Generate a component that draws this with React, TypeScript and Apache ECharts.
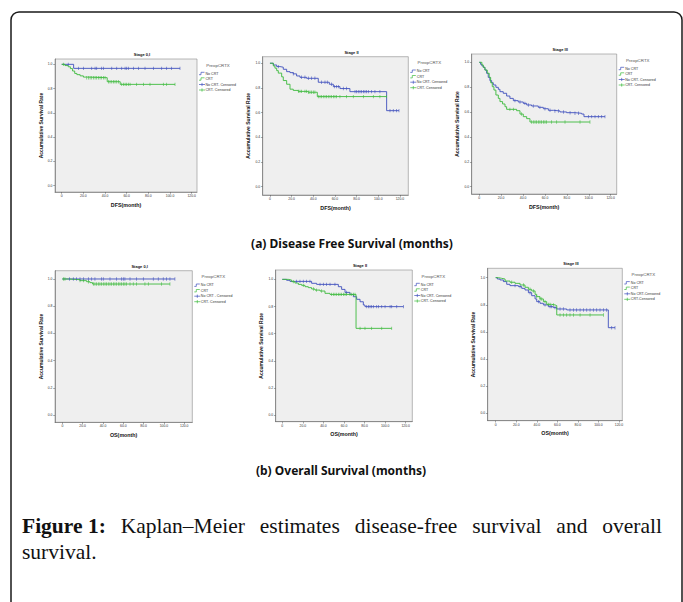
import React, { useEffect, useRef } from "react";
import * as echarts from "echarts";

type Pt = [number, number];

// ---------- tick values ----------
const X_TICKS = [0, 20, 40, 60, 80, 100, 120];
const Y_TICKS = [0, 0.2, 0.4, 0.6, 0.8, 1.0];

// ---------- (a) DFS, Stage 0,I ----------
const DFS_S01_NOCRT_STEPS: Pt[] = [[0, 1], [11, 0.967], [109.2, 0.967]];
const DFS_S01_NOCRT_CENS = [6, 15.4, 20, 27.7, 30.8, 32.3, 36.9, 38.5, 46.2, 50.8, 55.4, 58.5, 60, 61.5, 66.2, 70.8, 76.9, 84.6, 92.3, 96.9, 101.5, 109.2];
const DFS_S01_CRT_STEPS: Pt[] = [[0, 1], [3, 0.99], [6, 0.98], [8, 0.965], [10, 0.945], [12, 0.925], [14, 0.915], [17, 0.905], [20, 0.895], [23, 0.89], [42, 0.857], [54, 0.835], [104.6, 0.835]];
const DFS_S01_CRT_CENS = [1.5, 23.1, 24.6, 26.2, 27.7, 29.2, 30.8, 32.3, 33.8, 35.4, 36.9, 38.5, 40, 43.1, 44.6, 46.2, 47.7, 49.2, 50.8, 52.3, 55.4, 56.9, 58.5, 60, 61.5, 63.1, 69.2, 75.4, 81.5, 93.8, 96.9, 104.6];

// ---------- (a) DFS, Stage II ----------
const DFS_S2_NOCRT_STEPS: Pt[] = [[0, 1], [3.1, 0.986], [6.2, 0.973], [9.2, 0.968], [12.3, 0.951], [15.4, 0.932], [18.5, 0.924], [21.5, 0.914], [24.6, 0.897], [27.7, 0.886], [33.8, 0.878], [44.6, 0.846], [54.8, 0.83], [58.5, 0.811], [64.6, 0.795], [73.8, 0.77], [107.7, 0.616], [119.1, 0.616]];
const DFS_S2_NOCRT_CENS = [7.7, 21.5, 29.2, 32.3, 35.4, 38.5, 41.5, 47.7, 50.8, 52.9, 56.9, 59.4, 61.5, 63.1, 67.7, 70.8, 78.5, 80, 81.5, 83.1, 84.6, 86.2, 87.7, 89.2, 90.8, 93.8, 96.9, 101.5, 110.8, 113.8, 116.9, 119.1];
const DFS_S2_CRT_STEPS: Pt[] = [[0, 1], [3.1, 0.978], [4.6, 0.96], [6.2, 0.94], [7.7, 0.92], [10.8, 0.89], [12.3, 0.86], [15.4, 0.83], [18.5, 0.79], [21.5, 0.78], [26.2, 0.772], [35.4, 0.765], [43.7, 0.73], [107.7, 0.73]];
const DFS_S2_CRT_CENS = [26.2, 27.7, 29.2, 32.3, 33.8, 35.4, 36.9, 38.5, 40, 41.5, 44.6, 46.2, 47.7, 49.2, 50.8, 52.3, 53.8, 55.4, 56.9, 58.5, 60, 61.5, 64.6, 70.8, 76.9, 86.2, 95.4, 101.5, 107.7];

// ---------- (a) DFS, Stage III ----------
const DFS_S3_NOCRT_STEPS: Pt[] = [[0, 1], [1.2, 0.984], [2.4, 0.971], [3.7, 0.96], [5.2, 0.938], [6.7, 0.912], [8.2, 0.879], [9.7, 0.853], [11.3, 0.836], [12.8, 0.818], [15.2, 0.799], [17.4, 0.783], [18.9, 0.764], [21.9, 0.751], [25, 0.729], [28, 0.71], [31.1, 0.692], [35.6, 0.681], [40.2, 0.67], [43.3, 0.657], [47.8, 0.649], [53.9, 0.638], [58.5, 0.627], [63.1, 0.614], [67.6, 0.609], [73.7, 0.601], [79.8, 0.595], [87.4, 0.59], [93.5, 0.584], [95.6, 0.563], [114.8, 0.563]];
const DFS_S3_NOCRT_CENS = [32.6, 37.2, 41.7, 44.8, 49.3, 55.4, 60, 64.6, 69.1, 72.2, 76.8, 82.9, 87.4, 90.5, 99.6, 102.7, 105.7, 108.7, 111.8, 114.8];
const DFS_S3_CRT_STEPS: Pt[] = [[0, 1], [2.4, 0.979], [3.7, 0.96], [5.2, 0.938], [7.3, 0.912], [9.1, 0.879], [10.4, 0.836], [11.9, 0.804], [13.4, 0.777], [15.2, 0.737], [17.4, 0.71], [18.9, 0.684], [21.3, 0.665], [23.5, 0.643], [25, 0.622], [34.1, 0.611], [37.2, 0.584], [40.2, 0.563], [43.3, 0.547], [46.3, 0.52], [101.1, 0.52]];
const DFS_S3_CRT_CENS = [28, 31.1, 38.7, 47.8, 49.3, 50.9, 52.4, 53.9, 55.4, 56.9, 58.5, 60, 61.5, 66.1, 70.7, 78.3, 92, 101.1];

// ---------- (b) OS, Stage 0,I ----------
const OS_S01_NOCRT_STEPS: Pt[] = [[0, 1], [110.8, 1]];
const OS_S01_NOCRT_CENS = [6.9, 10.8, 14.1, 17.4, 20.7, 25.6, 28.9, 32.1, 38.7, 40.3, 46.9, 53.4, 58.4, 60, 61.6, 66.6, 73.1, 79.7, 89.5, 94.4, 99.3, 102.6, 105.9, 110.8];
const OS_S01_CRT_STEPS: Pt[] = [[0, 1], [5.9, 0.995], [17.4, 0.988], [23.9, 0.98], [27.2, 0.973], [29.8, 0.963], [105.9, 0.963]];
const OS_S01_CRT_CENS = [1, 2.6, 17.4, 20.7, 25.6, 30.5, 32.1, 33.8, 35.4, 37, 38.7, 40.3, 42, 43.6, 45.2, 46.9, 48.5, 50.2, 51.8, 53.4, 55.1, 56.7, 58.4, 60, 61.6, 63.3, 66.6, 69.8, 73.1, 81.3, 84.6, 97.7, 105.9];

// ---------- (b) OS, Stage II ----------
const OS_S2_NOCRT_STEPS: Pt[] = [[0, 1], [4.2, 0.993], [7.5, 0.985], [28.5, 0.971], [33.4, 0.963], [54.5, 0.946], [57.7, 0.926], [61, 0.904], [65.8, 0.889], [69.1, 0.872], [72.3, 0.853], [75.6, 0.835], [78.8, 0.811], [80.4, 0.799], [117.7, 0.799]];
const OS_S2_NOCRT_CENS = [13.9, 17.2, 20.4, 23.7, 26.9, 36.7, 39.9, 43.1, 46.4, 51.2, 62.6, 82.1, 83.7, 85.3, 86.9, 88.5, 91.8, 93.4, 96.7, 99.9, 104.8, 106.4, 111.3, 117.7];
const OS_S2_CRT_STEPS: Pt[] = [[0, 1], [5.8, 0.995], [9.1, 0.983], [12.3, 0.973], [15.6, 0.963], [18.8, 0.956], [22.1, 0.946], [25.3, 0.939], [28.5, 0.929], [31.8, 0.921], [36.7, 0.914], [41.5, 0.897], [46.4, 0.889], [71.7, 0.639], [106.4, 0.639]];
const OS_S2_CRT_CENS = [10.7, 20.4, 30.2, 33.4, 38.3, 48, 49.6, 51.2, 52.9, 54.5, 56.1, 57.7, 59.4, 61, 62.6, 65.8, 67.5, 69.1, 70.7, 75.6, 80.4, 86.9, 96.7, 106.4];

// ---------- (b) OS, Stage III ----------
const OS_S3_NOCRT_STEPS: Pt[] = [[0, 1], [1.6, 0.99], [4.2, 0.983], [7.5, 0.971], [10.7, 0.951], [13.9, 0.941], [22.1, 0.934], [25.3, 0.921], [28.5, 0.909], [31.8, 0.889], [35, 0.867], [38.3, 0.843], [39.9, 0.823], [43.1, 0.811], [46.4, 0.799], [51.2, 0.786], [56.1, 0.779], [59.4, 0.769], [69.1, 0.762], [109.6, 0.631], [116.1, 0.631]];
const OS_S3_NOCRT_CENS = [18.8, 23.7, 33.4, 41.5, 48, 52.9, 54.5, 57.7, 62.6, 65.8, 72.3, 75.6, 78.8, 82.1, 85.3, 88.6, 91.8, 95, 98.3, 101.5, 104.8, 108, 112.9, 116.1];
const OS_S3_CRT_STEPS: Pt[] = [[0, 1], [2.6, 0.995], [5.8, 0.99], [9.1, 0.975], [13.9, 0.966], [18.8, 0.958], [23.7, 0.946], [28.5, 0.929], [31.8, 0.914], [35, 0.902], [38.3, 0.877], [39.9, 0.86], [43.1, 0.843], [46.4, 0.823], [49.6, 0.803], [54.5, 0.799], [57.7, 0.794], [59.4, 0.725], [104.8, 0.725]];
const OS_S3_CRT_CENS = [15.6, 26.9, 33.4, 36.7, 39.9, 43.1, 44.8, 48, 51.2, 52.9, 56.1, 62.6, 65.8, 69.1, 72.3, 75.6, 82.1, 91.8, 104.8];

// ---------- texts ----------
const PANEL_TITLES = ["Stage 0,I", "Stage II", "Stage III", "Stage 0,I", "Stage II", "Stage III"];
const X_NAMES = ["DFS(month)", "DFS(month)", "DFS(month)", "OS(month)", "OS(month)", "OS(month)"];
const Y_NAME = "Accumulative Survival Rate";
const LEGEND_TITLE = "PreopCRTX";
const LEGEND_LABELS = [
  ["No CRT", "CRT", "No CRT- Censored", "CRT- Censored"],
  ["No CRT", "CRT", "No CRT- Censored", "CRT- Censored"],
  ["No CRT", "CRT", "No CRT- Censored", "CRT- Censored"],
  ["No CRT", "CRT", "No CRT - Censored", "CRT- Censored"],
  ["No CRT", "CRT", "No CRT- Censored", "CRT- Censored"],
  ["No CRT", "CRT", "No CRT-Censored", "CRT-Censored"],
];
const SUBTITLE_A = "(a) Disease Free Survival (months)";
const SUBTITLE_B = "(b) Overall Survival (months)";
const CAPTION_BOLD = "Figure 1:";
const CAPTION_LINE1 = "Kaplan–Meier estimates disease-free survival and overall";
const CAPTION_LINE2 = "survival.";

const PANEL_DATA = [
  [DFS_S01_NOCRT_STEPS, DFS_S01_NOCRT_CENS, DFS_S01_CRT_STEPS, DFS_S01_CRT_CENS],
  [DFS_S2_NOCRT_STEPS, DFS_S2_NOCRT_CENS, DFS_S2_CRT_STEPS, DFS_S2_CRT_CENS],
  [DFS_S3_NOCRT_STEPS, DFS_S3_NOCRT_CENS, DFS_S3_CRT_STEPS, DFS_S3_CRT_CENS],
  [OS_S01_NOCRT_STEPS, OS_S01_NOCRT_CENS, OS_S01_CRT_STEPS, OS_S01_CRT_CENS],
  [OS_S2_NOCRT_STEPS, OS_S2_NOCRT_CENS, OS_S2_CRT_STEPS, OS_S2_CRT_CENS],
  [OS_S3_NOCRT_STEPS, OS_S3_NOCRT_CENS, OS_S3_CRT_STEPS, OS_S3_CRT_CENS],
] as const;

// ---------- layout (pixels) ----------
const LAYOUT = [
  { L: 55, T: 59, R: 197, B: 192, xr: [-6.2, 124.9], yr: [-0.052, 1.044] },
  { L: 262.7, T: 56.7, R: 408.3, B: 195, xr: [-6.7, 127.7], yr: [-0.067, 1.053] },
  { L: 471.7, T: 54, R: 616.7, B: 194, xr: [-6.9, 125.5], yr: [-0.059, 1.067] },
  { L: 55, T: 270.7, R: 192.3, B: 422.3, xr: [-7.2, 127.9], yr: [-0.054, 1.061] },
  { L: 275.7, T: 270, R: 412.3, B: 421.7, xr: [-6.4, 126.4], yr: [-0.049, 1.069] },
  { L: 487.7, T: 268.3, R: 622.3, B: 420.7, xr: [-7.8, 123.2], yr: [-0.055, 1.069] },
];

const BLUE = "#3e4fbd";
const GREEN = "#3cba3c";
const SANS = "Liberation Sans";
const SERIF = "Liberation Serif";

function survivalAt(steps: readonly Pt[], t: number): number {
  let s = steps[0][1];
  for (const [ti, si] of steps) {
    if (ti <= t + 1e-9) s = si;
    else break;
  }
  return s;
}

function textEl(x: number, y: number, text: string, font: string, fill: string, align = "center", rotation = 0) {
  return {
    type: "text",
    x,
    y,
    rotation,
    silent: true,
    style: {
      text,
      font,
      fill,
      align,
      textAlign: align,
      verticalAlign: "middle",
      textVerticalAlign: "middle",
    },
  };
}

function buildOption() {
  const grid: any[] = [];
  const xAxis: any[] = [];
  const yAxis: any[] = [];
  const series: any[] = [];
  const graphic: any[] = [];

  // outer frame
  graphic.push({
    type: "rect",
    silent: true,
    shape: { x: 11, y: 12, width: 671, height: 640, r: 8 },
    style: { fill: "none", stroke: "#1a1a1a", lineWidth: 1.5 },
  });

  LAYOUT.forEach((p, i) => {
    grid.push({
      left: p.L,
      top: p.T,
      width: p.R - p.L,
      height: p.B - p.T,
      show: true,
      backgroundColor: "#efefef",
      borderColor: "#8a8a8a",
      borderWidth: 0.6,
    });
    xAxis.push({
      gridIndex: i,
      type: "value",
      min: p.xr[0],
      max: p.xr[1],
      axisLine: { show: true, onZero: false, lineStyle: { color: "#666", width: 0.6 } },
      axisTick: { show: true, customValues: X_TICKS, length: 1.8, lineStyle: { color: "#555", width: 0.5 } },
      axisLabel: {
        customValues: X_TICKS,
        formatter: (v: number) => (v === 0 ? "0" : v.toFixed(1)),
        fontSize: 3.4,
        color: "#333",
        margin: 2.5,
        fontFamily: SANS,
      },
      splitLine: { show: false },
      name: X_NAMES[i],
      nameLocation: "middle",
      nameGap: 10,
      nameTextStyle: { fontSize: 5.3, fontWeight: "bold", fontFamily: SANS, color: "#111" },
    });
    yAxis.push({
      gridIndex: i,
      type: "value",
      min: p.yr[0],
      max: p.yr[1],
      axisLine: { show: true, onZero: false, lineStyle: { color: "#666", width: 0.6 } },
      axisTick: { show: true, customValues: Y_TICKS, length: 1.8, lineStyle: { color: "#555", width: 0.5 } },
      axisLabel: {
        customValues: Y_TICKS,
        formatter: (v: number) => v.toFixed(1),
        fontSize: 3.4,
        color: "#333",
        margin: 2.5,
        fontFamily: SANS,
      },
      splitLine: { show: false },
      name: Y_NAME,
      nameLocation: "middle",
      nameGap: 12,
      nameTextStyle: { fontSize: 5, fontWeight: "bold", fontFamily: SANS, color: "#111" },
    });

    const [nSteps, nCens, cSteps, cCens] = PANEL_DATA[i];
    const curves: [readonly Pt[], readonly number[], string, string][] = [
      [nSteps, nCens, BLUE, "No CRT"],
      [cSteps, cCens, GREEN, "CRT"],
    ];
    curves.forEach(([steps, cens, color, name]) => {
      series.push({
        type: "line",
        name,
        xAxisIndex: i,
        yAxisIndex: i,
        data: steps.map((d) => [d[0], d[1]]),
        step: "end",
        symbol: "none",
        showSymbol: false,
        silent: true,
        lineStyle: { color, width: 0.9 },
        itemStyle: { color },
        z: 3,
      });
      series.push({
        type: "scatter",
        name: name + "- Censored",
        xAxisIndex: i,
        yAxisIndex: i,
        data: cens.map((t) => [t, survivalAt(steps, t)]),
        symbol: "rect",
        symbolSize: [0.7, 3.4],
        silent: true,
        itemStyle: { color },
        z: 4,
      });
    });

    // panel title
    graphic.push(textEl((p.L + p.R) / 2 + 16, p.T - 4.5, PANEL_TITLES[i], `bold 4px "${SANS}"`, "#111"));

    // legend
    const R = p.R;
    graphic.push(textEl(R + 21, p.T + 6, LEGEND_TITLE, `4.4px "${SANS}"`, "#555"));
    const labels = LEGEND_LABELS[i];
    for (let k = 0; k < 4; k++) {
      const y = p.T + 14.5 + k * 5.5;
      const color = k % 2 === 0 ? BLUE : GREEN;
      if (k < 2) {
        graphic.push({
          type: "polyline",
          silent: true,
          shape: { points: [[R + 2, y + 1.2], [R + 4, y + 1.2], [R + 4, y - 1.2], [R + 7.5, y - 1.2]] },
          style: { stroke: color, lineWidth: 0.7, fill: "none" },
        });
      } else {
        graphic.push({
          type: "line",
          silent: true,
          shape: { x1: R + 2, y1: y, x2: R + 8, y2: y },
          style: { stroke: color, lineWidth: 0.7 },
        });
        graphic.push({
          type: "line",
          silent: true,
          shape: { x1: R + 5, y1: y - 1.6, x2: R + 5, y2: y + 1.6 },
          style: { stroke: color, lineWidth: 0.7 },
        });
      }
      graphic.push(textEl(R + 8.5, y, labels[k], `3.6px "${SANS}"`, "#333", "left"));
    }
  });

  // subtitles
  graphic.push(textEl(352, 243, SUBTITLE_A, `bold 12px "Noto Sans"`, "#111"));
  graphic.push(textEl(341, 470, SUBTITLE_B, `bold 12px "Noto Sans"`, "#111"));

  // caption (justified first line)
  const boldFont = `bold 21.5px "${SERIF}"`;
  const regFont = `21.5px "${SERIF}"`;
  const canvas = document.createElement("canvas");
  const ctx = canvas.getContext("2d")!;
  const measure = (t: string, f: string) => {
    ctx.font = f;
    return ctx.measureText(t).width;
  };
  const words: { t: string; f: string }[] = [
    { t: CAPTION_BOLD, f: boldFont },
    ...CAPTION_LINE1.split(" ").map((t) => ({ t, f: regFont })),
  ];
  const left = 22;
  const right = 662;
  const total = words.reduce((s, w) => s + measure(w.t, w.f), 0);
  const gap = Math.max(4, (right - left - total) / (words.length - 1));
  let cx = left;
  words.forEach((w) => {
    graphic.push(textEl(cx, 525.5, w.t, w.f, "#111", "left"));
    cx += measure(w.t, w.f) + gap;
  });
  graphic.push(textEl(left, 552, CAPTION_LINE2, regFont, "#111", "left"));

  return {
    animation: false,
    backgroundColor: "#ffffff",
    grid,
    xAxis,
    yAxis,
    series,
    graphic,
  };
}

export default function App() {
  const ref = useRef<HTMLDivElement>(null);
  useEffect(() => {
    if (!ref.current) return;
    const chart = echarts.init(ref.current, undefined, { renderer: "svg" });
    chart.setOption(buildOption() as any);
    return () => chart.dispose();
  }, []);
  return (
    <div
      ref={ref}
      style={{ position: "absolute", left: 0, top: 0, width: 683, height: 602, background: "#fff" }}
    />
  );
}
